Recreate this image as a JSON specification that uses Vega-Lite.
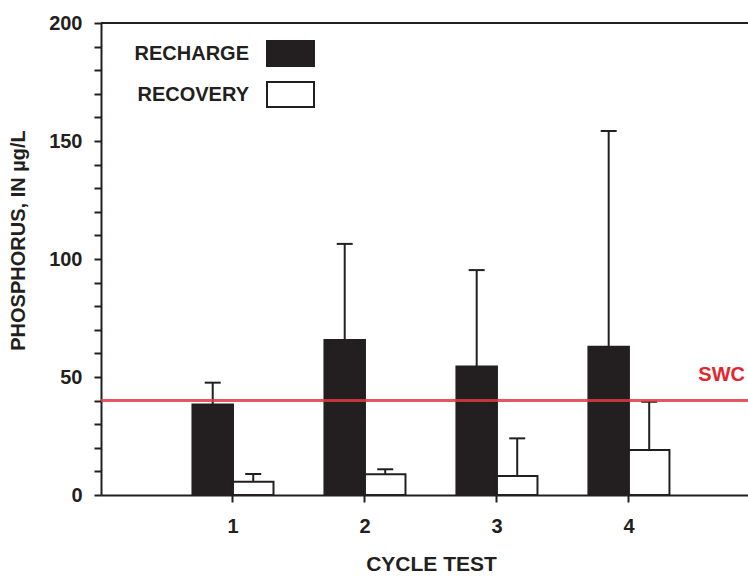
{
  "$schema": "https://vega.github.io/schema/vega-lite/v6.json",
  "width": 647,
  "height": 472,
  "autosize": "none",
  "padding": {"left": 101, "top": 23, "right": 0, "bottom": 83},
  "background": "white",
  "config": {
    "font": "Liberation Sans",
    "view": {"stroke": null},
    "axis": {
      "domainColor": "#231f20",
      "domainWidth": 2,
      "tickColor": "#231f20",
      "tickWidth": 2,
      "tickSize": 7,
      "labelFont": "Liberation Sans",
      "labelFontWeight": "bold",
      "labelFontSize": 20,
      "labelColor": "#231f20",
      "labelOverlap": false,
      "titleFont": "Liberation Sans",
      "titleFontWeight": "bold",
      "titleColor": "#231f20",
      "grid": false
    }
  },
  "datasets": {
    "bars": [
      {"cycle": "1", "series": "RECHARGE", "value": 38.4, "upper": 47.6},
      {"cycle": "1", "series": "RECOVERY", "value": 5.6, "upper": 8.9},
      {"cycle": "2", "series": "RECHARGE", "value": 65.7, "upper": 106.4},
      {"cycle": "2", "series": "RECOVERY", "value": 8.8, "upper": 10.9},
      {"cycle": "3", "series": "RECHARGE", "value": 54.4, "upper": 95.3},
      {"cycle": "3", "series": "RECOVERY", "value": 8.0, "upper": 24.0},
      {"cycle": "4", "series": "RECHARGE", "value": 62.8, "upper": 154.2},
      {"cycle": "4", "series": "RECOVERY", "value": 19.1, "upper": 39.5}
    ],
    "ref": [{"label": "SWC", "value": 40}],
    "frame": [{"top": 200}]
  },
  "encoding": {
    "y": {
      "field": "value",
      "type": "quantitative",
      "scale": {"domain": [0, 200], "nice": false, "zero": true},
      "axis": {
        "values": [0, 10, 20, 30, 40, 50, 60, 70, 80, 90, 100, 110, 120, 130, 140, 150, 160, 170, 180, 190, 200],
        "labelExpr": "datum.value % 50 === 0 ? datum.label : ''",
        "labelOverlap": false,
        "labelPadding": 12,
        "title": "PHOSPHORUS, IN µg/L",
        "titleFontSize": 20,
        "titlePadding": 20,
        "titleY": 217
      }
    }
  },
  "layer": [
    {
      "data": {"name": "bars"},
      "mark": {"type": "bar", "stroke": "#231f20", "strokeWidth": 2},
      "encoding": {
        "x": {
          "field": "cycle",
          "type": "ordinal",
          "scale": {"paddingInner": 0.386, "paddingOuter": 0.644, "align": 0.538},
          "axis": {
            "labelAngle": 0,
            "labelPadding": 14,
            "title": "CYCLE TEST",
            "titleFontSize": 21,
            "titlePadding": 17,
            "titleX": 330,
            "titleAlign": "center"
          }
        },
        "xOffset": {
          "field": "series",
          "type": "nominal",
          "scale": {"domain": ["RECHARGE", "RECOVERY"], "paddingInner": 0, "paddingOuter": 0}
        },
        "fill": {
          "field": "series",
          "type": "nominal",
          "scale": {"domain": ["RECHARGE", "RECOVERY"], "range": ["#231f20", "#ffffff"]},
          "legend": {
            "orient": "none",
            "legendX": 165,
            "legendY": 6,
            "title": null,
            "padding": 0,
            "symbolType": "M-1,-0.53H1V0.53H-1Z",
            "symbolSize": 2209,
            "symbolStrokeColor": "#231f20",
            "symbolStrokeWidth": 2,
            "symbolOpacity": 1,
            "labelAlign": "right",
            "labelOffset": -66,
            "labelFont": "Liberation Sans",
            "labelFontWeight": "bold",
            "labelFontSize": 20,
            "labelColor": "#231f20",
            "rowPadding": -8.5
          }
        }
      }
    },
    {
      "data": {"name": "bars"},
      "mark": {"type": "rule", "color": "#231f20", "strokeWidth": 2},
      "encoding": {
        "x": {"field": "cycle", "type": "ordinal"},
        "xOffset": {"field": "series", "type": "nominal"},
        "y2": {"field": "upper"}
      }
    },
    {
      "data": {"name": "bars"},
      "mark": {"type": "tick", "color": "#231f20", "thickness": 2, "size": 16, "opacity": 1},
      "encoding": {
        "x": {"field": "cycle", "type": "ordinal"},
        "xOffset": {"field": "series", "type": "nominal"},
        "y": {"field": "upper", "type": "quantitative"}
      }
    },
    {
      "data": {"name": "ref"},
      "mark": {"type": "rule", "color": "#e03a42", "strokeWidth": 3, "opacity": 0.85}
    },
    {
      "data": {"name": "ref"},
      "mark": {"type": "text", "color": "#e2262e", "font": "Liberation Sans", "fontWeight": "bold", "fontSize": 20, "align": "right", "baseline": "alphabetic", "dx": -3, "dy": -20},
      "encoding": {
        "x": {"value": "width"},
        "text": {"field": "label"}
      }
    },
    {
      "data": {"name": "frame"},
      "mark": {"type": "rule", "color": "#231f20", "strokeWidth": 2},
      "encoding": {
        "y": {"field": "top", "type": "quantitative"}
      }
    }
  ]
}
